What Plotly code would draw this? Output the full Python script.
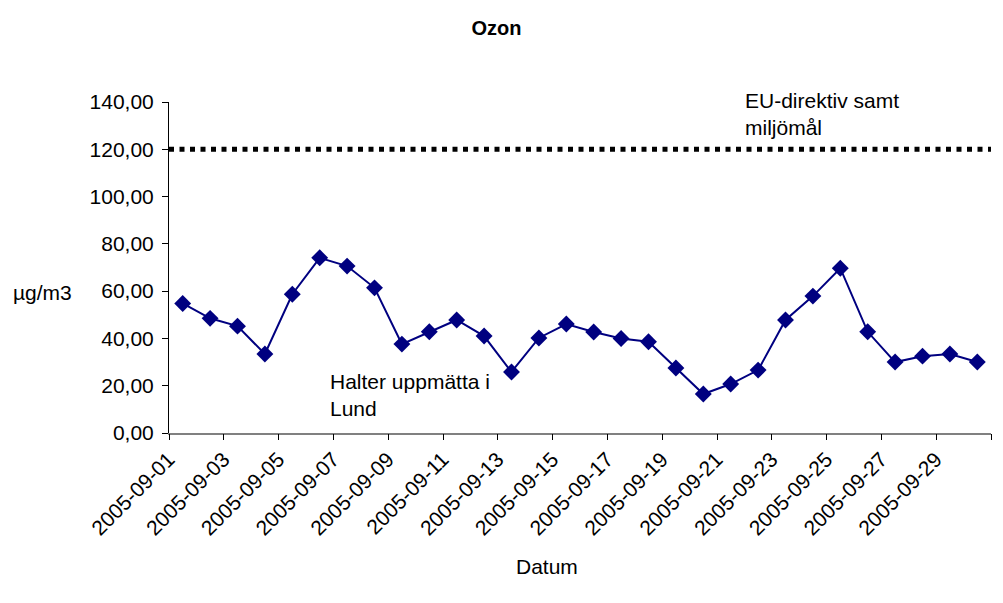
import plotly.graph_objects as go

DATES = [
    "2005-09-01", "2005-09-02", "2005-09-03", "2005-09-04", "2005-09-05",
    "2005-09-06", "2005-09-07", "2005-09-08", "2005-09-09", "2005-09-10",
    "2005-09-11", "2005-09-12", "2005-09-13", "2005-09-14", "2005-09-15",
    "2005-09-16", "2005-09-17", "2005-09-18", "2005-09-19", "2005-09-20",
    "2005-09-21", "2005-09-22", "2005-09-23", "2005-09-24", "2005-09-25",
    "2005-09-26", "2005-09-27", "2005-09-28", "2005-09-29", "2005-09-30",
]
OZON = [
    54.8, 48.5, 45.2, 33.4, 58.7, 74.1, 70.6, 61.4, 37.6, 42.8,
    47.8, 41.0, 25.8, 40.2, 46.1, 42.7, 40.0, 38.6, 27.5, 16.5,
    20.7, 26.6, 47.8, 57.9, 69.7, 42.8, 30.0, 32.5, 33.4, 30.0,
]
EU_LIMIT = 120
Y_TICKS = [0, 20, 40, 60, 80, 100, 120, 140]
LABEL_DATES = DATES[::2]

FONT = "Liberation Sans, Arial, sans-serif"
FS = 21

fig = go.Figure()

# EU limit line on a secondary (day-boundary) axis spanning the full width
fig.add_trace(go.Scatter(
    x=[0, len(DATES)], y=[EU_LIMIT, EU_LIMIT], xaxis="x2", yaxis="y",
    mode="lines", line=dict(color="black", width=5, dash="5px,5.5px"),
    hoverinfo="skip", showlegend=False,
))

fig.add_trace(go.Scatter(
    x=DATES, y=OZON, mode="lines+markers",
    line=dict(color="#000080", width=2),
    marker=dict(symbol="diamond", size=13, color="#000080"),
    showlegend=False,
))

fig.update_layout(
    width=1003, height=603,
    margin=dict(l=169, r=12, t=102, b=170),
    paper_bgcolor="white", plot_bgcolor="white",
    separators=", ",
    font=dict(family=FONT, size=FS, color="black"),
    title=dict(text="<b>Ozon</b>", x=0.495, xanchor="center",
               y=1 - 28 / 603, yanchor="middle",
               font=dict(family=FONT, size=FS - 1, color="black")),
    xaxis=dict(
        type="category", range=[-0.5, len(DATES) - 0.5], automargin=False,
        tickmode="array", tickvals=LABEL_DATES, ticktext=LABEL_DATES,
        tickangle=-45, ticks="", showline=True, linecolor="#808080",
        linewidth=1.5, showgrid=False, zeroline=False,
        ticklabelshift=-14, ticklabelstandoff=4,
        tickfont=dict(family=FONT, size=FS, color="black"),
    ),
    xaxis2=dict(
        overlaying="x", anchor="y", side="bottom", automargin=False,
        range=[0, len(DATES)], tickmode="linear", tick0=0, dtick=2,
        ticks="outside", ticklen=6, tickcolor="black", tickwidth=1,
        showticklabels=False, showline=False, showgrid=False, zeroline=False,
    ),
    yaxis=dict(
        range=[0, 140], tickmode="array", tickvals=Y_TICKS, automargin=False,
        tickformat=".2f", ticks="outside", ticklen=6, tickcolor="black",
        showline=True, linecolor="black", linewidth=1, showgrid=False,
        zeroline=False, ticklabelstandoff=4,
        tickfont=dict(family=FONT, size=FS, color="black"),
    ),
    annotations=[
        dict(text="µg/m3", xref="paper", yref="paper",
             x=(11 - 169) / 822, y=(433 - 292) / 331.3,
             xanchor="left", yanchor="middle", showarrow=False),
        dict(text="Datum", xref="paper", yref="paper",
             x=(547 - 169) / 822, y=(433 - 567) / 331.3,
             xanchor="center", yanchor="middle", showarrow=False),
        dict(text="EU-direktiv samt", xref="paper", yref="paper",
             x=(743 - 169) / 822, y=(433 - 100) / 331.3,
             xanchor="left", yanchor="middle", showarrow=False),
        dict(text="miljömål", xref="paper", yref="paper",
             x=(743 - 169) / 822, y=(433 - 127) / 331.3,
             xanchor="left", yanchor="middle", showarrow=False),
        dict(text="Halter uppmätta i", xref="paper", yref="paper",
             x=(328 - 169) / 822, y=(433 - 381) / 331.3,
             xanchor="left", yanchor="middle", showarrow=False),
        dict(text="Lund", xref="paper", yref="paper",
             x=(328 - 169) / 822, y=(433 - 408) / 331.3,
             xanchor="left", yanchor="middle", showarrow=False),
    ],
)

fig.write_html("out.html", config={"displayModeBar": False},
               post_script="document.body.style.margin='0';document.body.style.overflow='hidden';")
